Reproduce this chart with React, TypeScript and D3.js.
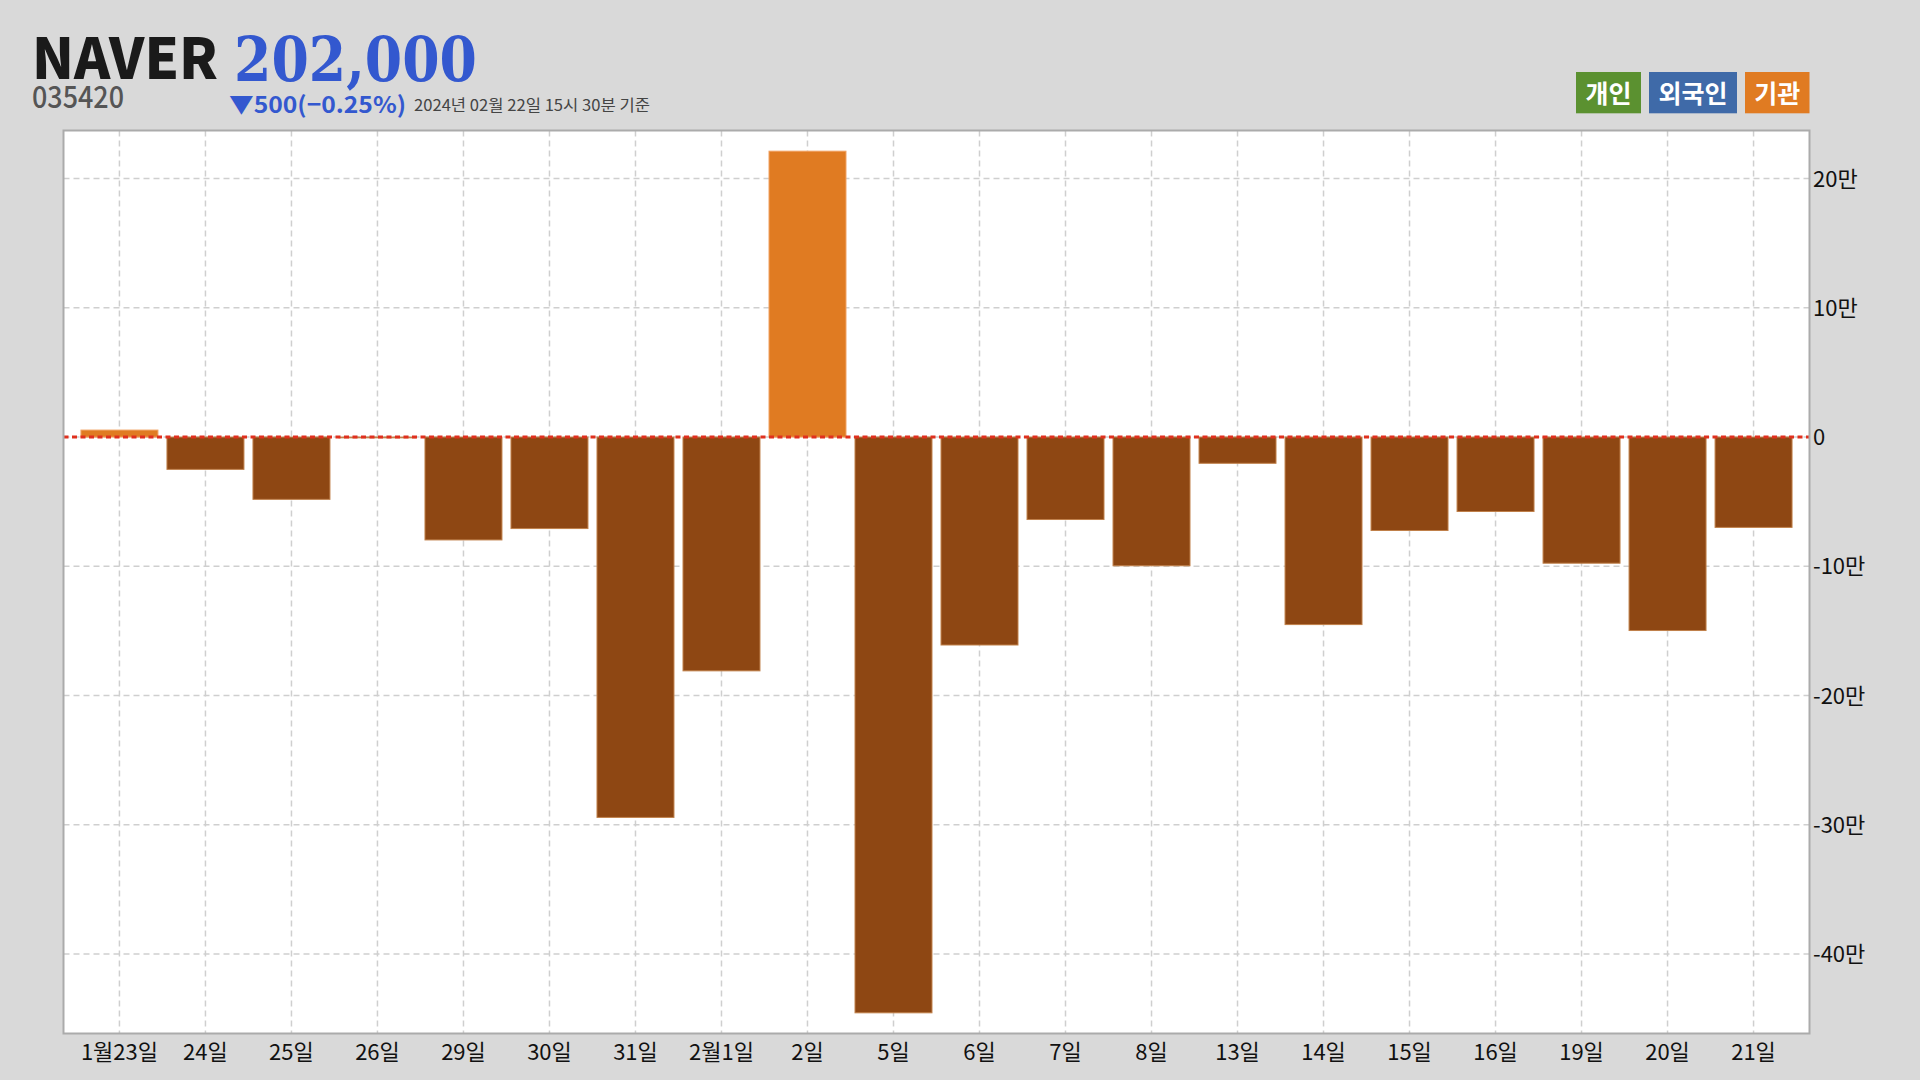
import React from "react";
import * as d3 from "d3";

const categories = ["1월23일","24일","25일","26일","29일","30일","31일","2월1일","2일","5일","6일","7일","8일","13일","14일","15일","16일","19일","20일","21일"];
const institutionNet = [5400,-25000,-48200,-600,-79600,-70800,-294300,-180900,221200,-445500,-160900,-63800,-99600,-20300,-145100,-72300,-57600,-97600,-149700,-69900];
const yTicks = [200000,100000,0,-100000,-200000,-300000,-400000];
const legendItems = [
  { label: "개인", color: "#5B9130" },
  { label: "외국인", color: "#3F6AA8" },
  { label: "기관", color: "#E07B22" },
];
const stockName = "NAVER";
const stockPrice = "202,000";
const stockCode = "035420";
const changeText = "▼500(−0.25%)";
const dateText = "2024년 02월 22일 15시 30분 기준";

const W = 1920, H = 1080;
const plot = { left: 63.5, right: 1809.5, top: 130.5, bottom: 1033.5 };
const KR = "'Noto Sans CJK KR', 'Noto Sans', sans-serif";

export default function App() {
  const x = d3.scaleBand<string>().domain(categories).range([plot.left, plot.right]).paddingInner(0.105).paddingOuter(0.203);
  const mn = d3.min(institutionNet) as number;
  const mx = d3.max(institutionNet) as number;
  const pad = (mx - mn) * 0.024;
  const y = d3.scaleLinear().domain([mn - pad, mx + pad]).range([plot.bottom, plot.top]);
  const fmt = (v: number) => (v === 0 ? "0" : `${v / 10000}만`);

  return (
    <svg width={W} height={H} style={{ position: "absolute", left: 0, top: 0, background: "#D9D9D9" }}>
      <rect x={0} y={0} width={W} height={H} fill="#D9D9D9" />
      {/* header */}
      <text x={32} y={78.5} fontFamily={KR} fontWeight={900} fontSize={56} fill="#1a1a1a" textLength={186} lengthAdjust="spacingAndGlyphs">{stockName}</text>
      <text x={234} y={81} fontFamily="'DejaVu Serif', serif" fontWeight={700} fontSize={62} fill="#3358CF" textLength={243} lengthAdjust="spacingAndGlyphs">{stockPrice}</text>
      <text x={32} y={107.5} fontFamily={KR} fontWeight={500} fontSize={30} fill="#555" textLength={92} lengthAdjust="spacingAndGlyphs">{stockCode}</text>
      <text x={229} y={113} fontFamily={KR} fontWeight={700} fontSize={23} fill="#3358CF" textLength={177} lengthAdjust="spacingAndGlyphs">{changeText}</text>
      <text x={414} y={111} fontFamily={KR} fontSize={15.5} fill="#444" textLength={236} lengthAdjust="spacingAndGlyphs">{dateText}</text>
      {/* legend */}
      {(() => {
        const boxes = [ [1576, 1641], [1649, 1737], [1745, 1809.5] ];
        return legendItems.map((it, i) => (
          <g key={it.label}>
            <rect x={boxes[i][0]} y={72} width={boxes[i][1] - boxes[i][0]} height={41.3} fill={it.color} />
            <text x={(boxes[i][0] + boxes[i][1]) / 2} y={92} textAnchor="middle" dominantBaseline="central" fontFamily={KR} fontWeight={700} fontSize={25} fill="#fff">{it.label}</text>
          </g>
        ));
      })()}
      {/* plot area */}
      <rect x={plot.left} y={plot.top} width={plot.right - plot.left} height={plot.bottom - plot.top} fill="#FFFFFF" />
      {yTicks.map((t) => (
        <line key={"h" + t} x1={plot.left} x2={plot.right} y1={y(t)} y2={y(t)} stroke="#CFCFCF" strokeWidth={1.5} strokeDasharray="6,4" />
      ))}
      {categories.map((c) => {
        const cx = (x(c) as number) + x.bandwidth() / 2;
        return <line key={"v" + c} x1={cx} x2={cx} y1={plot.top} y2={plot.bottom} stroke="#CFCFCF" strokeWidth={1.5} strokeDasharray="6,4" />;
      })}
      {categories.map((c, i) => {
        const v = institutionNet[i];
        const y0 = y(0), y1 = y(v);
        return (
          <rect key={"b" + c} x={x(c)} y={Math.min(y0, y1)} width={x.bandwidth()} height={Math.abs(y1 - y0)}
            fill={v >= 0 ? "#E07B22" : "#8E4713"} stroke={v >= 0 ? "#F0A060" : "#C0804A"} strokeWidth={1} />
        );
      })}
      <line x1={plot.left} x2={plot.right} y1={y(0)} y2={y(0)} stroke="#E0301E" strokeWidth={3} strokeDasharray="5,3.5" />
      <rect x={plot.left} y={plot.top} width={plot.right - plot.left} height={plot.bottom - plot.top} fill="none" stroke="#ABABAB" strokeWidth={2} />
      {/* y labels */}
      {yTicks.map((t) => (
        <text key={"yl" + t} x={1813} y={y(t) - 2} dominantBaseline="central" fontFamily={KR} fontSize={22} fill="#111">{fmt(t)}</text>
      ))}
      {/* x labels */}
      {categories.map((c) => (
        <text key={"xl" + c} x={(x(c) as number) + x.bandwidth() / 2} y={1050} textAnchor="middle" dominantBaseline="central" fontFamily={KR} fontSize={22} fill="#111">{c}</text>
      ))}
    </svg>
  );
}
